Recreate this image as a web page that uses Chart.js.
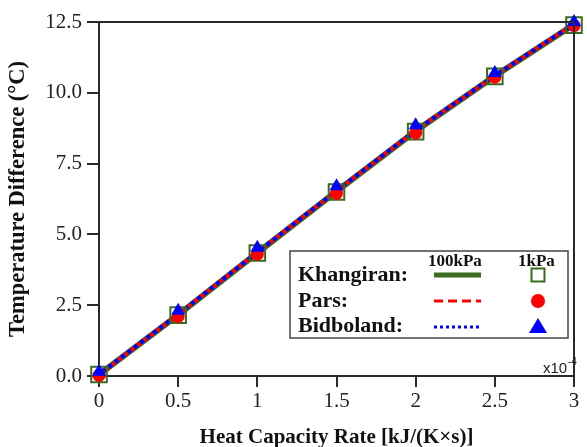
<!DOCTYPE html>
<html><head><meta charset="utf-8">
<script src="https://cdn.jsdelivr.net/npm/chart.js@4/dist/chart.umd.min.js"></script>
<style>html,body{margin:0;padding:0;background:#fff}#wrap{width:587px;height:447px}</style>
</head><body><div id="wrap"><canvas id="c"></canvas></div>
<script>
const xValues = [0, 0.5, 1, 1.5, 2, 2.5, 3];
// 100kPa lines
const khangiran100 = [0.05, 2.16, 4.35, 6.52, 8.65, 10.59, 12.41];
const pars100 = [0.05, 2.17, 4.36, 6.53, 8.66, 10.60, 12.42];
const bidboland100 = [0.06, 2.18, 4.37, 6.54, 8.67, 10.61, 12.43];
// 1kPa markers
const khangiran1 = [0.05, 2.15, 4.34, 6.50, 8.63, 10.58, 12.39];
const pars1 = [0.02, 2.10, 4.30, 6.45, 8.58, 10.55, 12.37];
const bidboland1 = [0.15, 2.30, 4.53, 6.70, 8.85, 10.70, 12.50];
const xTickLabels = ['0', '0.5', '1', '1.5', '2', '2.5', '3'];
const yTickValues = [0, 2.5, 5, 7.5, 10, 12.5];
const yTickLabels = ['0.0', '2.5', '5.0', '7.5', '10.0', '12.5'];
const seriesNames = ['Khangiran:', 'Pars:', 'Bidboland:'];
const legendHeaders = ['100kPa', '1kPa'];

const GREEN = '#3a6b1f', RED = '#ff0000', BLUE = '#0000ff', AXIS = '#2a2a2a';
const pts = arr => xValues.map((x, i) => ({x: x, y: arr[i]}));
const SERIF = '"Liberation Serif", "Times New Roman", serif';

const framePlugin = {
  id: 'frame',
  afterDraw(chart) {
    const ctx = chart.ctx, a = chart.chartArea;
    ctx.save();
    ctx.strokeStyle = AXIS; ctx.lineWidth = 2;
    ctx.beginPath();
    ctx.moveTo(a.left, a.top); ctx.lineTo(a.right, a.top); ctx.lineTo(a.right, a.bottom);
    ctx.stroke();
    // x10^-4
    ctx.fillStyle = '#222';
    ctx.font = '15px "Liberation Sans", Arial, sans-serif';
    ctx.textBaseline = 'alphabetic';
    ctx.textAlign = 'left';
    ctx.fillText('x10', 543, 373);
    ctx.font = '10px "Liberation Sans", Arial, sans-serif';
    ctx.fillText('-4', 568, 365);
    // legend box
    ctx.fillStyle = '#fff';
    ctx.fillRect(290, 251, 278, 87);
    ctx.strokeStyle = '#444'; ctx.lineWidth = 1.5;
    ctx.strokeRect(290, 251, 278, 87);
    ctx.fillStyle = '#111';
    ctx.font = 'bold 17px ' + SERIF;
    ctx.fillText(legendHeaders[0], 428, 266);
    ctx.fillText(legendHeaders[1], 518, 266);
    ctx.font = 'bold 22px ' + SERIF;
    const rows = [281, 307, 332];
    seriesNames.forEach((n, i) => ctx.fillText(n, 298, rows[i]));
    // line samples
    const ly = [275, 301, 327];
    ctx.lineCap = 'butt';
    ctx.strokeStyle = GREEN; ctx.lineWidth = 5; ctx.setLineDash([]);
    ctx.beginPath(); ctx.moveTo(434, ly[0]); ctx.lineTo(481, ly[0]); ctx.stroke();
    ctx.strokeStyle = RED; ctx.lineWidth = 3; ctx.setLineDash([9, 5]);
    ctx.beginPath(); ctx.moveTo(434, ly[1]); ctx.lineTo(481, ly[1]); ctx.stroke();
    ctx.strokeStyle = BLUE; ctx.lineWidth = 3; ctx.setLineDash([3, 3]);
    ctx.beginPath(); ctx.moveTo(434, ly[2]); ctx.lineTo(481, ly[2]); ctx.stroke();
    ctx.setLineDash([]);
    // marker samples
    const mx = 538;
    ctx.strokeStyle = GREEN; ctx.lineWidth = 2;
    ctx.strokeRect(mx - 6.5, ly[0] - 6.5, 13, 13);
    ctx.fillStyle = RED;
    ctx.beginPath(); ctx.arc(mx, ly[1], 7, 0, Math.PI * 2); ctx.fill();
    ctx.fillStyle = BLUE;
    ctx.beginPath(); ctx.moveTo(mx, ly[2] - 9); ctx.lineTo(mx + 9, ly[2] + 6); ctx.lineTo(mx - 9, ly[2] + 6); ctx.closePath(); ctx.fill();
    ctx.restore();
  }
};

const lineDs = (label, arr, color, width, dash, offset, order) => ({
  label, data: pts(arr), borderColor: color, borderWidth: width, borderDash: dash, borderDashOffset: offset,
  pointRadius: 0, showLine: true, fill: false, order, clip: false
});
const markDs = (label, arr, style, radius, bg, border, bw, order) => ({
  label, data: pts(arr), showLine: false, pointStyle: style, pointRadius: radius,
  pointBackgroundColor: bg, pointBorderColor: border, pointBorderWidth: bw, order, clip: false
});

new Chart(document.getElementById('c'), {
  type: 'line',
  data: {
    datasets: [
      lineDs('Khangiran 100kPa', khangiran100, GREEN, 6, [], 0, 6),
      lineDs('Pars 100kPa', pars100, RED, 4, [4, 4], 0, 5),
      lineDs('Bidboland 100kPa', bidboland100, BLUE, 4, [4, 4], 4, 4),
      markDs('Khangiran 1kPa', khangiran1, 'rect', 11, 'rgba(0,0,0,0)', GREEN, 2, 3),
      markDs('Pars 1kPa', pars1, 'circle', 6.5, RED, RED, 0, 2),
      markDs('Bidboland 1kPa', bidboland1, 'triangle', 8, BLUE, BLUE, 0, 1)
    ]
  },
  options: {
    responsive: true, maintainAspectRatio: false, animation: false,
    layout: {padding: {left: 0, top: 22, right: 4, bottom: 0}},
    plugins: {legend: {display: false}, tooltip: {enabled: false}},
    scales: {
      x: {
        type: 'linear', min: 0, max: 3,
        afterBuildTicks: s => { s.ticks = xValues.map(v => ({value: v})); },
        afterFit: s => { s.height = 71; s.paddingLeft = 0; s.paddingRight = 0; },
        border: {display: true, color: AXIS, width: 2},
        grid: {display: true, drawOnChartArea: false, drawTicks: true, tickLength: 11, color: AXIS, lineWidth: 2},
        ticks: {padding: 2, color: '#222', font: {family: SERIF, size: 21}, maxRotation: 0,
          callback: (v, i) => xTickLabels[i]},
        title: {display: true, text: 'Heat Capacity Rate [kJ/(K×s)]', color: '#111',
          font: {family: SERIF, size: 21, weight: 'bold', lineHeight: 1}, padding: {top: 0, bottom: -1}}
      },
      y: {
        type: 'linear', min: 0, max: 12.5,
        afterBuildTicks: s => { s.ticks = yTickValues.map(v => ({value: v})); },
        afterFit: s => { s.width = 99; s.paddingTop = 0; s.paddingBottom = 0; },
        border: {display: true, color: AXIS, width: 2},
        grid: {display: true, drawOnChartArea: false, drawTicks: true, tickLength: 12, color: AXIS, lineWidth: 2},
        ticks: {padding: 5, color: '#222', font: {family: SERIF, size: 21},
          callback: (v, i) => yTickLabels[i]},
        title: {display: true, text: 'Temperature Difference (°C)', color: '#111',
          font: {family: SERIF, size: 22.5, weight: 'bold', lineHeight: 1}, padding: {top: 7, bottom: 0}}
      }
    }
  },
  plugins: [framePlugin]
});
</script>
</body></html>
